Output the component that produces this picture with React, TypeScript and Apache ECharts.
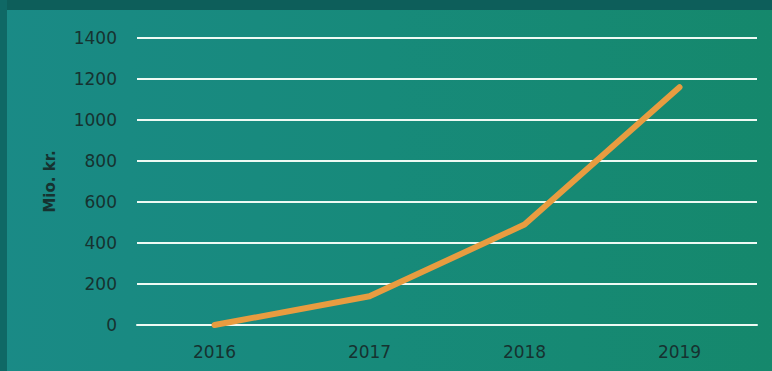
import React, { useEffect, useRef } from "react";
import * as echarts from "echarts";

const categories = ["2016", "2017", "2018", "2019"];
const values = [0, 140, 490, 1160];
const yAxisName = "Mio. kr.";

export default function App() {
  const ref = useRef<HTMLDivElement>(null);
  useEffect(() => {
    if (!ref.current) return;
    const chart = echarts.init(ref.current, null, { renderer: "svg" });
    const textColor = "#163230";
    const font = "DejaVu Sans";
    chart.setOption({
      animation: false,
      backgroundColor: "#168a7a",
      graphic: [
        {
          type: "rect",
          z: -10,
          silent: true,
          shape: { x: 0, y: 0, width: 772, height: 371 },
          style: {
            fill: new echarts.graphic.LinearGradient(0, 0, 1, 0, [
              { offset: 0, color: "#1a8a86" },
              { offset: 0.5, color: "#178a7a" },
              { offset: 1, color: "#15886c" },
            ]),
          },
        },
        {
          type: "rect",
          z: -9,
          silent: true,
          shape: { x: 0, y: 0, width: 772, height: 10 },
          style: { fill: "#0d5e5a" },
        },
        {
          type: "rect",
          z: -9,
          silent: true,
          shape: { x: 0, y: 0, width: 7, height: 371 },
          style: { fill: "#0f6865" },
        },
      ],
      grid: { left: 137, right: 15, top: 38, bottom: 46 },
      xAxis: {
        type: "category",
        data: categories,
        boundaryGap: true,
        axisLine: { show: true, lineStyle: { color: "#eefaf4", width: 2 } },
        axisTick: { show: false },
        axisLabel: {
          color: textColor,
          fontSize: 17,
          fontFamily: font,
          margin: 18,
        },
      },
      yAxis: {
        type: "value",
        min: 0,
        max: 1400,
        interval: 200,
        name: yAxisName,
        nameLocation: "middle",
        nameGap: 80,
        nameRotate: 90,
        nameTextStyle: {
          color: textColor,
          fontSize: 15,
          fontWeight: "bold",
          fontFamily: font,
        },
        axisLine: { show: false },
        axisTick: { show: false },
        axisLabel: {
          color: textColor,
          fontSize: 17,
          fontFamily: font,
          margin: 20,
          formatter: (v: number) => String(v),
        },
        splitLine: { lineStyle: { color: "#eefaf4", width: 2 } },
      },
      series: [
        {
          type: "line",
          data: values,
          symbol: "none",
          lineStyle: { color: "#e89c40", width: 6, cap: "round", join: "round" },
        },
      ],
    });
    return () => chart.dispose();
  }, []);
  return (
    <div
      ref={ref}
      style={{ position: "fixed", left: 0, top: 0, width: 772, height: 371 }}
    />
  );
}
